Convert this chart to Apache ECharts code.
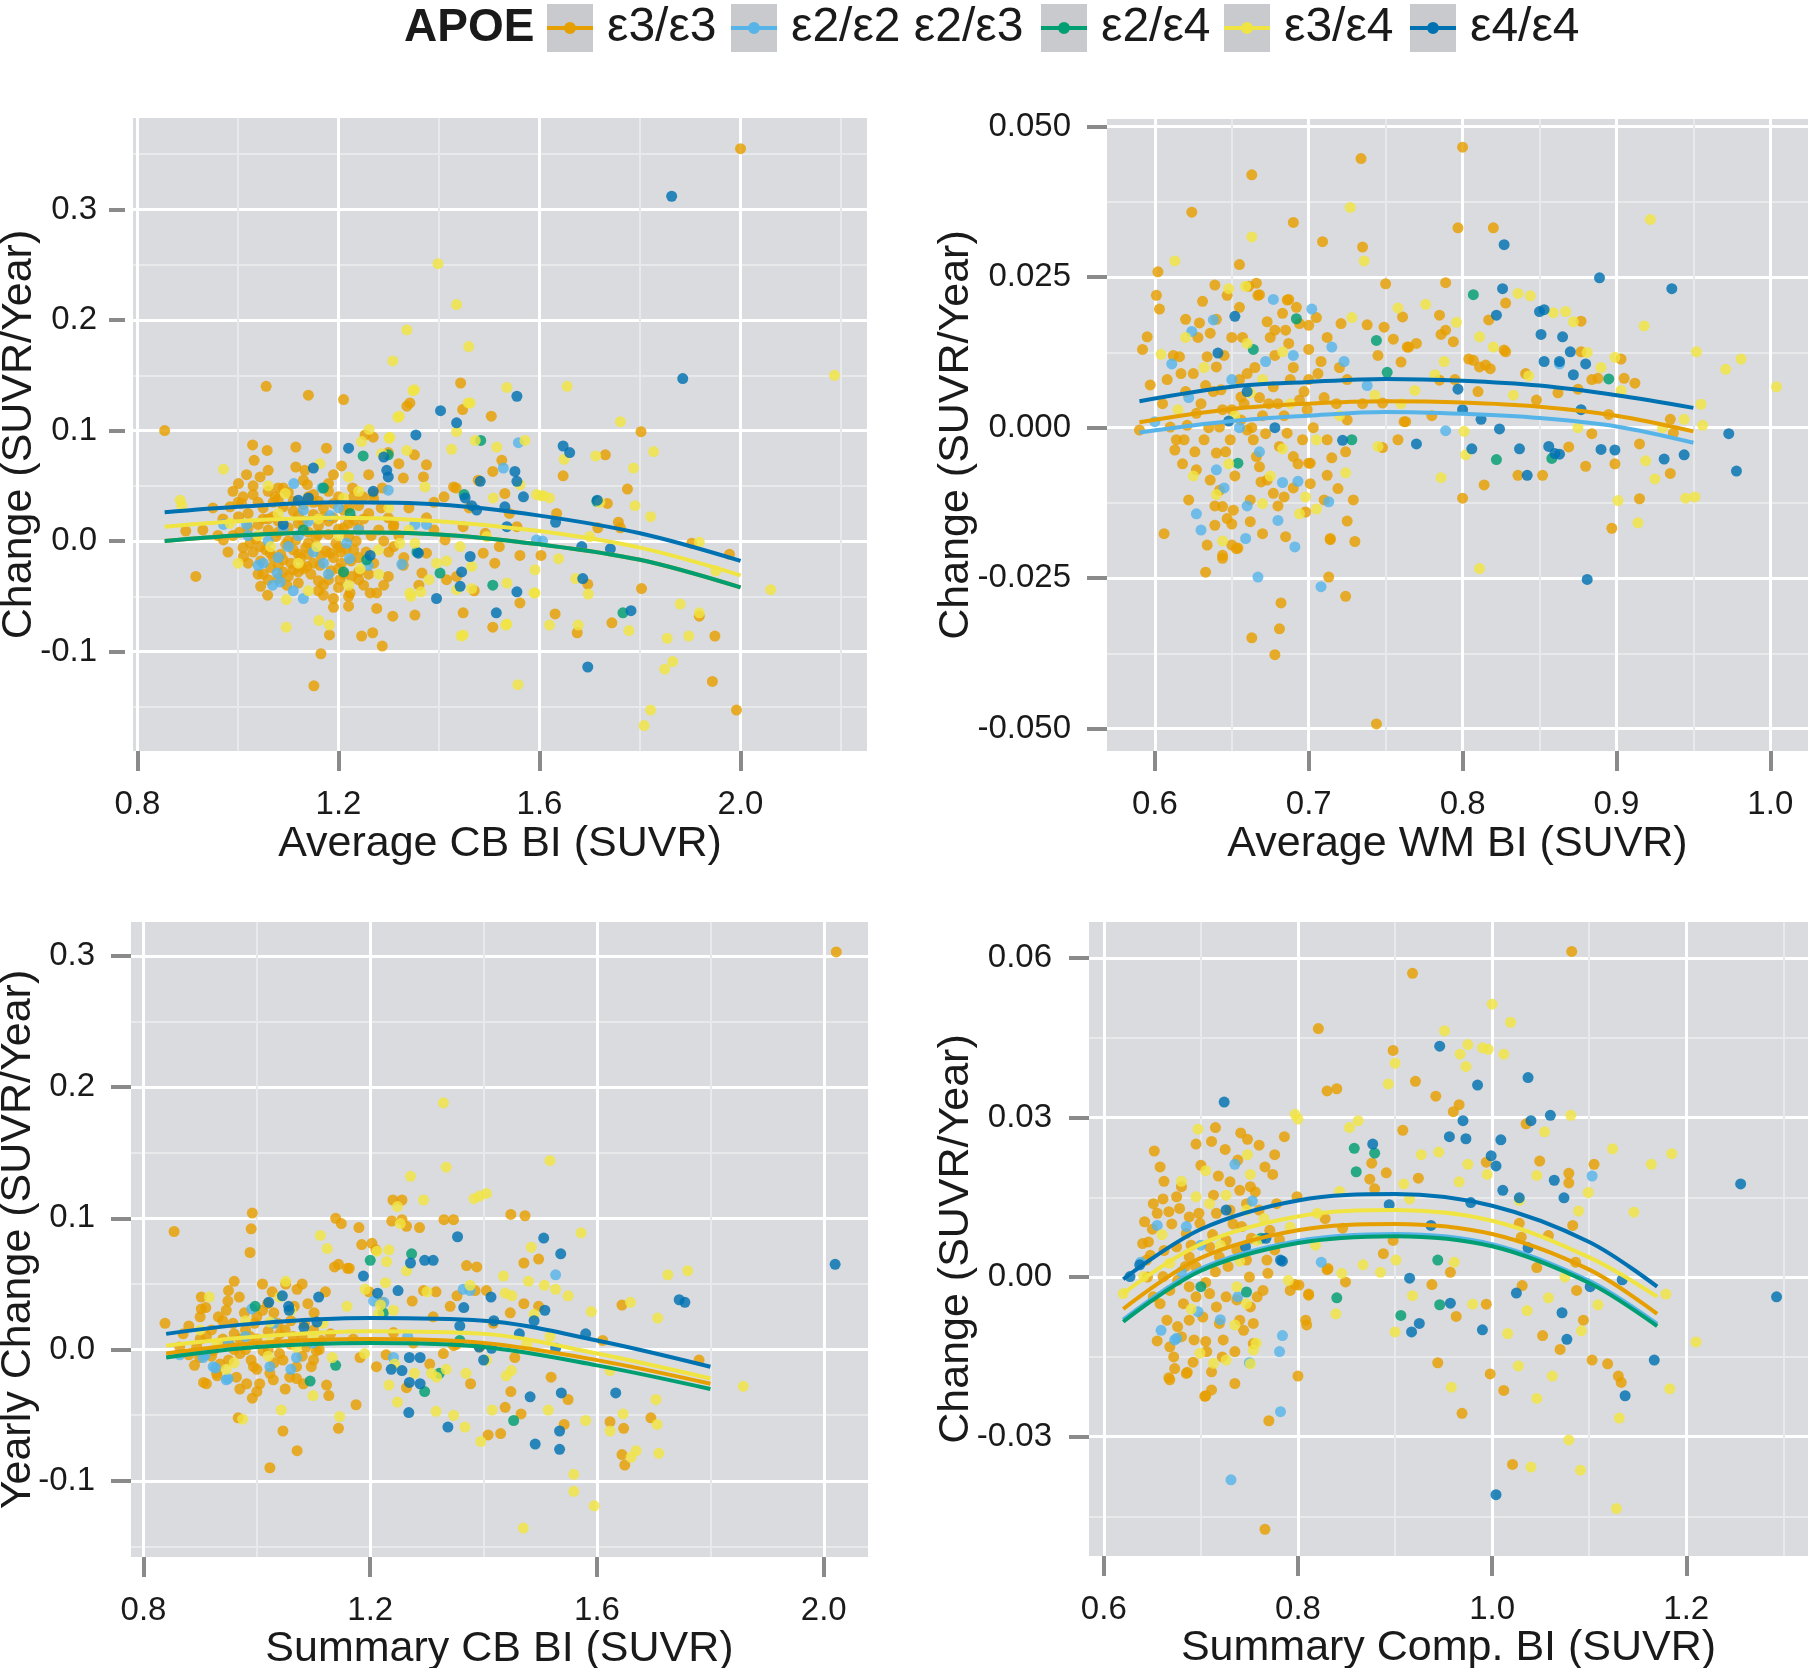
<!DOCTYPE html>
<html>
<head>
<meta charset="utf-8">
<script src="https://cdn.jsdelivr.net/npm/echarts@6/dist/echarts.min.js"></script>
<style>
html,body{margin:0;padding:0;background:#fff}
#main{width:1808px;height:1668px}
</style>
</head>
<body>
<div id="main"></div>
<script>
var groups = ['ε3/ε3', 'ε2/ε2 ε2/ε3', 'ε2/ε4', 'ε3/ε4', 'ε4/ε4'];
var colors = ['#E69F00', '#56B4E9', '#009E73', '#F0E442', '#0072B2'];

// ---------- panel 1 : Average CB BI ----------
var p1_e33 = [[2.000,0.355],[0.854,0.100],[1.056,0.140],[1.140,0.132],[1.210,0.128],[1.443,0.143],[1.342,0.125],[1.336,0.122],[1.447,0.119],[1.504,0.113],[1.269,0.094],[1.253,0.096],[1.029,0.087],[1.058,0.082],[1.115,0.085],[1.176,0.084],[1.299,0.080],[1.351,0.078],[1.032,0.073],[1.017,0.060],[1.044,0.058],[1.060,0.064],[1.001,0.052],[1.115,0.067],[1.133,0.064],[1.190,0.060],[1.206,0.068],[1.228,0.048],[1.249,0.040],[1.269,0.043],[1.287,0.048],[1.329,0.057],[1.369,0.058],[1.375,0.069],[1.525,0.073],[1.507,0.063],[1.531,0.043],[1.434,0.048],[1.478,0.055],[0.984,0.031],[1.007,0.034],[1.030,0.042],[1.074,0.040],[1.138,0.051],[0.896,0.009],[0.971,0.001],[1.003,0.008],[1.001,0.022],[1.024,-0.002],[1.044,-0.005],[1.064,-0.011],[1.090,-0.017],[1.110,-0.026],[1.137,-0.023],[1.163,-0.022],[1.183,-0.011],[1.206,-0.020],[1.203,-0.035],[1.226,-0.032],[1.097,-0.040],[1.045,-0.041],[1.059,-0.049],[1.170,-0.049],[1.190,-0.052],[1.190,-0.060],[1.220,-0.059],[1.223,-0.047],[1.263,-0.047],[1.276,-0.047],[1.276,-0.061],[1.308,-0.068],[1.352,-0.067],[1.246,-0.086],[1.268,-0.083],[1.287,-0.095],[1.182,-0.085],[1.165,-0.102],[1.151,-0.131],[0.916,-0.032],[1.011,-0.014],[1.299,-0.032],[1.329,-0.022],[1.366,-0.029],[1.375,-0.011],[1.375,0.021],[1.309,0.013],[1.299,0.021],[1.412,0.001],[1.415,-0.035],[1.435,-0.032],[1.448,-0.065],[1.507,-0.078],[1.488,-0.011],[1.511,-0.020],[1.561,-0.013],[1.561,-0.056],[1.555,0.013],[1.492,0.007],[1.448,0.013],[1.429,0.049],[1.802,0.099],[1.647,0.059],[1.731,0.078],[1.775,0.047],[1.696,-0.039],[1.757,0.017],[1.903,-0.002],[1.978,-0.012],[1.631,-0.066],[1.675,-0.083],[1.744,-0.074],[1.803,-0.043],[1.918,-0.068],[1.949,-0.086],[1.944,-0.127],[1.992,-0.153],[1.634,0.025],[1.716,0.012],[1.761,0.012],[1.735,0.034],[1.603,-0.013],[1.05,0.030],[1.07,0.022],[1.09,0.031],[1.11,0.027],[1.13,0.033],[1.15,0.024],[1.17,0.030],[1.19,0.021],[1.21,0.028],[1.23,0.019],[1.04,0.015],[1.06,0.010],[1.08,0.018],[1.10,0.012],[1.12,0.016],[1.14,0.008],[1.16,0.014],[1.18,0.006],[1.20,0.011],[1.22,0.004],[1.035,0.002],[1.055,-0.008],[1.075,0.004],[1.095,-0.003],[1.115,0.001],[1.135,-0.006],[1.155,0.003],[1.175,-0.009],[1.195,-0.002],[1.215,-0.007],[1.235,0.000],[1.045,-0.018],[1.065,-0.024],[1.085,-0.012],[1.105,-0.020],[1.125,-0.015],[1.145,-0.030],[1.165,-0.013],[1.185,-0.027],[1.205,-0.010],[1.225,-0.018],[1.080,-0.034],[1.120,-0.038],[1.160,-0.036],[1.200,-0.042],[1.240,-0.028],[1.255,-0.010],[1.265,0.005],[1.250,0.020],[1.020,0.012],[1.010,-0.006],[0.990,0.045],[1.080,0.048],[1.150,0.042],[1.240,0.032],[1.285,0.030],[1.300,-0.010],[1.320,0.005],[1.340,0.030],[1.360,-0.040],[1.390,0.035],[1.410,0.040],[1.460,0.030],[1.470,-0.045],[1.520,-0.005],[1.540,0.025],[1.02,0.025],[1.04,0.035],[1.06,0.045],[1.08,0.038],[1.10,0.044],[1.12,0.023],[1.14,0.040],[1.16,0.036],[1.18,0.045],[1.20,0.040],[1.22,0.030],[1.24,0.012],[1.26,0.025],[1.28,0.010],[1.03,-0.010],[1.05,-0.030],[1.07,-0.015],[1.09,-0.028],[1.11,-0.008],[1.13,-0.025],[1.15,-0.020],[1.17,-0.040],[1.19,-0.015],[1.21,-0.030],[1.23,-0.008],[1.25,-0.040],[1.27,-0.020],[1.29,0.000],[1.31,0.015],[1.33,-0.015],[1.06,0.020],[1.08,0.008],[1.10,0.000],[1.12,-0.012],[1.14,-0.002],[1.16,0.006],[1.18,0.018],[1.20,-0.006],[1.22,0.016],[1.24,-0.015],[0.97,0.020],[0.99,0.005],[1.00,0.035],[0.95,0.030],[0.93,0.010],[1.13,0.055],[1.18,0.052],[1.26,0.060],[1.32,0.070],[1.39,0.010],[1.01,0.040],[1.03,0.050],[1.05,0.020],[1.07,0.035],[1.09,0.048],[1.11,0.036],[1.13,0.018],[1.15,0.035],[1.17,0.022],[1.19,0.034],[1.21,0.012],[1.23,0.040],[1.02,-0.020],[1.04,-0.030],[1.06,-0.035],[1.08,-0.022],[1.10,-0.032],[1.12,-0.028],[1.14,-0.012],[1.16,-0.045],[1.18,-0.035],[1.20,-0.025],[1.22,-0.050],[1.24,-0.035],[1.26,-0.030],[0.98,-0.010],[0.96,0.005],[1.27,0.038],[1.29,-0.040],[1.31,-0.005]];
var p1_e2x = [[1.558,0.089],[1.528,0.066],[1.111,0.052],[1.167,0.048],[1.130,-0.052],[1.078,-0.029],[1.084,-0.037],[1.040,-0.022],[0.971,0.015],[1.326,-0.021],[1.352,0.015],[1.375,0.015],[1.259,-0.022],[1.299,0.046],[1.594,0.001],[1.017,0.015],[1.183,0.023],[1.216,-0.002],[1.069,-0.040],[1.050,-0.020],[1.222,-0.016],[1.606,0.000],[1.12,0.005],[1.09,0.010],[1.15,-0.010],[1.20,0.030],[1.06,0.000],[1.18,-0.030],[1.10,-0.005],[1.14,0.018],[1.02,0.005],[1.08,-0.015],[1.13,0.028],[1.17,-0.020],[1.24,0.010],[1.11,-0.045]];
var p1_e24 = [[1.249,0.077],[1.299,0.078],[1.483,0.091],[1.170,0.048],[1.223,0.025],[1.356,-0.010],[1.402,-0.029],[1.507,-0.040],[1.256,-0.017],[1.210,-0.028],[1.766,-0.065],[1.714,0.036],[1.13,0.010],[1.45,0.042]];
var p1_e34 = [[1.398,0.251],[1.435,0.214],[1.336,0.191],[1.459,0.176],[1.308,0.163],[2.187,0.150],[1.535,0.139],[1.655,0.140],[1.348,0.136],[1.458,0.125],[1.318,0.112],[1.435,0.099],[1.301,0.093],[1.761,0.108],[1.827,0.081],[1.712,0.077],[1.649,0.074],[1.603,0.041],[1.821,0.022],[1.790,0.032],[1.720,0.035],[1.880,-0.057],[1.918,-0.065],[1.854,-0.088],[1.865,-0.109],[1.849,-0.116],[1.821,-0.153],[1.808,-0.167],[1.557,-0.130],[1.620,-0.076],[1.677,-0.076],[1.778,-0.081],[1.897,-0.086],[2.060,-0.044],[1.918,-0.001],[1.444,-0.086],[1.533,-0.076],[1.344,-0.050],[1.182,-0.076],[1.161,-0.072],[1.096,-0.078],[1.096,-0.053],[0.971,0.065],[0.885,0.037],[0.888,0.032],[1.589,-0.047],[1.094,0.043],[1.163,0.070],[1.261,0.101],[1.246,0.090],[1.302,0.094],[1.321,0.113],[1.351,0.137],[1.462,0.125],[1.425,0.083],[1.472,0.091],[1.515,0.085],[1.571,0.091],[1.594,0.042],[1.608,0.041],[1.508,0.039],[1.561,0.051],[1.372,0.049],[1.336,0.082],[1.286,0.079],[1.220,0.058],[1.210,0.039],[1.342,-0.047],[1.364,-0.046],[1.448,-0.085],[1.535,-0.075],[1.591,-0.047],[1.591,-0.026],[1.435,-0.044],[1.465,-0.043],[1.395,-0.020],[1.415,-0.018],[1.442,-0.005],[1.465,-0.023],[1.495,0.004],[1.535,-0.038],[1.352,-0.002],[1.322,-0.002],[1.279,-0.008],[1.243,-0.025],[1.157,-0.005],[1.065,-0.005],[0.984,0.016],[1.787,0.066],[1.700,0.004],[1.697,-0.048],[1.672,-0.034],[1.951,-0.027],[1.638,-0.016],[1.620,0.039],[1.04,0.005],[1.08,0.025],[1.12,-0.020],[1.16,0.020],[1.20,0.005],[1.24,0.045],[1.28,-0.030],[1.30,0.030],[1.00,-0.020],[1.06,0.050],[1.14,-0.045],[1.22,-0.040],[1.34,0.010],[1.38,-0.035]];
var p1_e44 = [[1.863,0.312],[1.885,0.147],[1.555,0.131],[1.403,0.118],[1.435,0.107],[1.354,0.096],[1.220,0.084],[1.296,0.064],[1.299,0.058],[1.551,0.063],[1.555,0.054],[1.568,0.040],[1.482,0.054],[1.452,0.039],[1.465,0.032],[1.475,0.028],[1.531,0.031],[1.535,0.013],[1.150,0.066],[1.140,0.039],[1.269,0.045],[1.359,-0.011],[1.263,-0.013],[1.445,-0.028],[1.395,-0.052],[1.442,-0.041],[1.514,-0.065],[1.555,-0.046],[1.462,-0.014],[1.090,0.015],[1.647,0.086],[1.660,0.080],[1.632,0.017],[1.715,0.037],[1.684,-0.005],[1.741,-0.007],[1.686,-0.034],[1.696,-0.114],[1.782,-0.063],[1.290,0.076],[1.12,0.037]];
var p1_fitX = [0.854, 1.0, 1.2, 1.4, 1.6, 1.8, 2.0];
var p1_fit_e33 = [0.000, 0.005, 0.008, 0.006, -0.003, -0.017, -0.042];
var p1_fit_e24 = [0.000, 0.005, 0.008, 0.006, -0.003, -0.017, -0.042];
var p1_fit_e34 = [0.013, 0.018, 0.021, 0.018, 0.009, -0.006, -0.031];
var p1_fit_e44 = [0.026, 0.031, 0.035, 0.033, 0.023, 0.007, -0.018];

// ---------- panel 2 : Average WM BI ----------
var p2_e33 = [[0.744,-0.0492],[0.800,0.0466],[0.734,0.0447],[0.663,0.0420],[0.624,0.0358],[0.690,0.0341],[0.709,0.0309],[0.735,0.0300],[0.797,0.0332],[0.820,0.0332],[0.828,0.0207],[0.789,0.0241],[0.750,0.0239],[0.602,0.0259],[0.601,0.0220],[0.603,0.0197],[0.592,0.0130],[0.595,0.0151],[0.606,-0.0176],[0.633,-0.0240],[0.644,-0.0212],[0.654,-0.0200],[0.663,-0.0349],[0.678,-0.0377],[0.681,-0.0334],[0.682,-0.0291],[0.713,-0.0248],[0.724,-0.0280],[0.714,-0.0186],[0.730,-0.0189],[0.725,-0.0155],[0.712,-0.0079],[0.700,-0.0059],[0.800,-0.0117],[0.814,-0.0095],[0.897,-0.0167],[0.915,-0.0118],[0.935,-0.0076],[0.899,-0.0060],[0.880,-0.0064],[0.852,-0.0079],[0.836,-0.0079],[0.869,-0.0032],[0.877,0.0177],[0.884,0.0080],[0.912,0.0074],[0.915,-0.0027],[0.937,-0.0009],[0.748,-0.0033],[0.763,0.0010],[0.655,0.0271],[0.661,0.0235],[0.639,0.0237],[0.668,0.0221],[0.687,0.0213],[0.705,0.0183],[0.721,0.0173],[0.738,0.0171],[0.749,0.0167],[0.761,0.0184],[0.755,0.0147],[0.765,0.0134],[0.786,0.0155],[0.794,0.0143],[0.804,0.0114],[0.818,0.0098],[0.841,0.0090],[0.817,0.0179],[0.848,0.0046],[0.862,0.0058],[0.616,0.0118],[0.617,0.0090],[0.629,0.0174],[0.636,0.0157],[0.634,0.0118],[0.640,0.0101],[0.667,0.0220],[0.673,0.0176],[0.678,0.0162],[0.685,0.0162],[0.694,0.0173],[0.686,0.0212],[0.760,0.0109],[0.764,0.0134],[0.785,0.0187],[0.789,0.0162],[0.785,0.0079],[0.811,0.0101],[0.827,0.0129],[0.590,-0.0004],[0.621,0.0004],[0.627,-0.0070],[0.636,-0.0087],[0.640,-0.0042],[0.642,0.0001],[0.649,-0.0020],[0.656,0.0013],[0.660,-0.0004],[0.664,-0.0020],[0.666,-0.0048],[0.668,-0.0065],[0.673,-0.0087],[0.677,-0.0109],[0.681,-0.0031],[0.686,-0.0009],[0.690,-0.0048],[0.696,-0.0020],[0.701,-0.0059],[0.694,0.0046],[0.677,0.0068],[0.656,0.0051],[0.643,0.0063],[0.627,0.0024],[0.619,-0.0020],[0.613,-0.0037],[0.610,0.0001],[0.642,-0.0104],[0.644,-0.0131],[0.647,-0.0151],[0.651,-0.0137],[0.639,-0.0162],[0.650,-0.0195],[0.653,-0.0201],[0.634,-0.0195],[0.644,-0.0217],[0.662,-0.0156],[0.670,-0.0176],[0.685,-0.0181],[0.684,-0.0115],[0.701,-0.0093],[0.719,-0.0101],[0.714,-0.0184],[0.712,-0.0020],[0.725,0.0013],[0.748,0.0041],[0.762,0.0010],[0.729,-0.0120],[0.597,0.0071],[0.620,0.0060],[0.630,0.0040],[0.650,0.0030],[0.660,0.0090],[0.670,0.0020],[0.680,0.0040],[0.700,0.0080],[0.710,0.0050],[0.690,0.0100],[0.650,0.0150],[0.700,0.0130],[0.720,0.0100],[0.807,0.0112],[0.815,0.0104],[0.828,0.0126],[0.903,0.0114],[0.905,0.0082],[0.935,0.0014],[0.888,0.0082],[0.877,0.0126],[0.875,0.0064],[0.895,0.0022],[0.884,-0.0010],[0.605,0.004],[0.612,0.012],[0.618,-0.006],[0.625,0.009],[0.632,-0.002],[0.638,0.006],[0.645,0.012],[0.652,-0.008],[0.658,0.004],[0.665,0.010],[0.672,-0.001],[0.678,0.012],[0.684,0.002],[0.690,-0.010],[0.697,0.006],[0.703,0.000],[0.708,0.011],[0.715,-0.005],[0.628,0.015],[0.646,-0.004],[0.662,-0.012],[0.675,0.015],[0.688,0.008],[0.655,0.008],[0.635,0.000],[0.622,-0.012],[0.668,0.005],[0.698,-0.014],[0.710,-0.012],[0.640,0.018],[0.655,0.020],[0.700,0.017],[0.725,0.008],[0.735,0.004],[0.745,0.012],[0.758,-0.002],[0.770,0.014],[0.780,0.002],[0.795,0.008],[0.810,0.006],[0.608,0.008],[0.614,-0.002],[0.620,0.018],[0.626,-0.004],[0.633,0.007],[0.639,-0.013],[0.644,0.003],[0.650,-0.016],[0.657,0.015],[0.663,0.000],[0.669,-0.009],[0.674,0.004],[0.680,-0.013],[0.687,0.014],[0.693,-0.006],[0.699,0.003],[0.706,0.009],[0.712,0.015],[0.718,0.004],[0.724,-0.004],[0.631,0.021],[0.647,0.022],[0.683,0.019],[0.666,0.024],[0.692,0.020]];
var p2_e2x = [[0.677,0.0213],[0.667,-0.0248],[0.708,-0.0264],[0.627,-0.0143],[0.630,-0.0170],[0.680,-0.0154],[0.691,-0.0198],[0.713,-0.0123],[0.659,-0.0184],[0.683,-0.0091],[0.693,-0.0089],[0.715,0.0134],[0.723,0.0110],[0.702,0.0197],[0.624,0.0160],[0.611,0.0106],[0.672,0.0110],[0.789,-0.0005],[0.738,0.0070],[0.863,0.0106],[0.638,0.0179],[0.640,-0.0070],[0.655,0.0000],[0.600,0.0010],[0.645,-0.0100],[0.660,-0.0130],[0.622,0.005],[0.650,0.008],[0.668,-0.004],[0.690,0.012]];
var p2_e24 = [[0.807,0.0221],[0.744,0.0145],[0.692,0.0181],[0.664,0.0130],[0.751,0.0092],[0.728,-0.0020],[0.654,-0.0059],[0.822,-0.0053],[0.858,-0.0051],[0.895,0.0081]];
var p2_e34 = [[0.727,0.0366],[0.922,0.0346],[0.663,0.0317],[0.613,0.0277],[0.736,0.0277],[0.648,0.0231],[0.659,0.0235],[0.836,0.0223],[0.844,0.0219],[0.859,0.0191],[0.867,0.0193],[0.872,0.0176],[0.758,0.0199],[0.776,0.0205],[0.796,0.0175],[0.918,0.0169],[0.952,0.0126],[0.971,0.0097],[0.981,0.0114],[1.004,0.0068],[0.955,0.0039],[0.956,0.0004],[0.945,-0.0117],[0.951,-0.0115],[0.914,-0.0158],[0.901,-0.0121],[0.925,-0.0085],[0.919,-0.0055],[0.944,0.0014],[0.881,0.0125],[0.899,0.0117],[0.811,-0.0234],[0.786,-0.0083],[0.802,-0.0045],[0.801,-0.0006],[0.745,-0.0031],[0.724,-0.0075],[0.698,-0.0115],[0.705,-0.0135],[0.694,-0.0143],[0.670,-0.0126],[0.640,-0.0111],[0.644,-0.0188],[0.662,0.0058],[0.683,-0.0035],[0.788,0.0110],[0.782,0.0088],[0.811,0.0151],[0.820,0.0134],[0.843,0.0086],[0.833,0.0054],[0.903,0.0062],[0.728,0.0183],[0.769,0.0062],[0.743,0.0054],[0.604,0.0122],[0.683,0.0126],[0.620,0.0150],[0.720,0.0020],[0.760,0.0040],[0.875,0.0000],[0.930,0.0000],[0.890,0.0100],[0.615,0.003],[0.632,0.010],[0.648,-0.006],[0.660,0.014],[0.675,-0.008],[0.688,0.004],[0.705,-0.002],[0.652,0.002],[0.625,-0.008],[0.670,0.008]];
var p2_e44 = [[0.827,0.0304],[0.889,0.0249],[0.936,0.0231],[0.826,0.0231],[0.822,0.0187],[0.652,0.0185],[0.641,0.0124],[0.850,0.0193],[0.853,0.0196],[0.851,0.0155],[0.865,0.0151],[0.853,0.0110],[0.863,0.0110],[0.870,0.0126],[0.872,0.0088],[0.880,0.0106],[0.797,0.0064],[0.800,0.0030],[0.812,0.0014],[0.824,-0.0002],[0.806,-0.0035],[0.770,-0.0027],[0.722,-0.0021],[0.678,0.0000],[0.648,0.0011],[0.837,-0.0035],[0.842,-0.0079],[0.856,-0.0031],[0.860,-0.0043],[0.863,-0.0044],[0.890,-0.0036],[0.899,-0.0037],[0.931,-0.0052],[0.944,-0.0045],[0.973,-0.0010],[0.978,-0.0072],[0.881,-0.0252],[0.877,0.0030],[0.660,0.0060]];
var p2_fitX = [0.59, 0.65, 0.70, 0.75, 0.80, 0.85, 0.90, 0.95];
var p2_fit_e33 = [0.0009, 0.0031, 0.0040, 0.0044, 0.0042, 0.0035, 0.0020, -0.0006];
var p2_fit_e2x = [-0.0008, 0.0011, 0.0020, 0.0026, 0.0023, 0.0016, 0.0002, -0.0025];
var p2_fit_e44 = [0.0044, 0.0068, 0.0076, 0.0081, 0.0078, 0.0070, 0.0054, 0.0033];

// ---------- panel 3 : Summary CB BI ----------
var p3_e33 = [[2.022,0.303],[0.854,0.090],[0.992,0.104],[0.990,0.092],[0.988,0.074],[0.838,0.020],[0.906,-0.025],[0.967,-0.052],[0.992,-0.037],[1.023,-0.090],[1.046,-0.062],[1.071,-0.077],[1.144,-0.060],[1.175,-0.042],[1.127,-0.035],[1.139,0.100],[1.144,0.065],[1.163,0.062],[1.149,0.096],[1.180,0.093],[1.185,0.080],[1.210,0.076],[1.240,0.114],[1.238,0.098],[1.264,0.094],[1.330,0.099],[1.370,0.064],[1.448,0.103],[1.471,0.066],[1.471,0.035],[1.385,0.045],[1.316,0.044],[1.274,0.037],[1.294,0.045],[1.221,0.036],[1.198,0.044],[1.347,0.003],[1.408,-0.065],[1.430,-0.064],[1.438,-0.044],[1.448,-0.032],[1.466,-0.049],[1.519,-0.021],[1.549,-0.038],[1.542,-0.057],[1.623,-0.055],[1.647,-0.060],[1.644,-0.080],[1.649,-0.088],[1.695,-0.052],[1.644,0.034],[1.610,0.007],[1.780,-0.008],[1.377,-0.026],[1.264,-0.029],[1.228,-0.004],[0.902,0.040],[0.902,0.031],[0.949,0.037],[0.969,0.040],[1.027,0.044],[1.051,0.050],[1.080,0.050],[1.071,0.046],[1.121,0.044],[0.932,0.025],[0.946,0.030],[0.958,0.020],[0.978,0.028],[0.996,0.020],[1.019,0.035],[1.037,0.020],[1.066,0.033],[1.084,0.020],[1.101,0.028],[0.911,0.010],[0.923,-0.001],[0.935,-0.011],[0.952,0.004],[0.970,-0.003],[0.988,0.010],[0.994,-0.013],[1.011,-0.001],[1.023,-0.018],[1.035,0.005],[1.046,-0.008],[1.064,0.010],[1.070,-0.013],[1.087,0.002],[1.096,-0.013],[1.105,-0.001],[1.114,0.007],[0.894,0.002],[0.864,0.002],[0.880,-0.004],[0.899,-0.006],[0.911,-0.026],[0.929,-0.018],[0.964,-0.021],[0.982,-0.026],[1.005,-0.026],[1.029,-0.023],[1.058,-0.021],[1.082,-0.026],[1.123,-0.027],[1.137,0.063],[1.160,0.062],[1.170,0.008],[1.182,-0.006],[1.211,-0.013],[1.203,0.081],[1.256,0.114],[1.256,0.099],[1.287,0.093],[1.347,0.099],[1.388,0.063],[1.405,0.045],[1.341,0.033],[1.311,0.025],[1.353,0.041],[1.473,0.102],[1.497,0.069],[1.497,0.033],[1.447,0.028],[1.417,0.020],[1.393,0.002],[1.329,-0.003],[1.276,0.005],[1.241,0.013],[1.305,-0.011],[1.352,0.004],[1.455,-0.006],[0.92,0.015],[0.94,0.008],[0.96,0.012],[0.98,0.000],[1.00,0.008],[1.02,0.014],[1.04,-0.003],[1.06,0.004],[1.08,-0.005],[0.95,-0.008],[1.00,-0.015],[1.05,-0.030],[1.10,0.015],[0.87,0.012],[0.90,0.025],[0.88,0.018],[0.90,0.008],[0.92,-0.005],[0.94,0.022],[0.96,0.000],[0.98,0.015],[1.00,0.025],[1.02,0.000],[1.04,0.012],[1.06,0.022],[1.08,0.010],[1.10,-0.008],[0.91,0.032],[0.93,-0.020],[0.95,0.045],[0.97,0.008],[0.99,-0.008],[1.01,0.030],[1.03,-0.010],[1.05,0.015],[1.07,-0.022],[1.09,0.035],[1.11,0.000],[0.89,-0.012],[0.97,-0.030],[1.01,0.050],[1.03,0.028],[0.96,0.052],[1.00,-0.032],[1.13,0.012]];
var p3_e2x = [[1.527,0.057],[1.364,0.046],[0.949,-0.022],[0.927,-0.014],[0.909,-0.004],[1.206,0.037],[1.266,0.010],[1.224,0.036],[1.241,-0.006],[0.864,-0.004],[0.905,-0.006],[0.923,-0.013],[0.946,-0.023],[0.991,0.031],[1.023,-0.013],[1.070,-0.006],[1.099,0.005],[1.376,0.045],[0.98,0.010],[1.03,0.020],[1.06,-0.015],[0.95,0.005]];
var p3_e24 = [[1.200,0.068],[1.273,0.073],[1.139,-0.012],[1.094,-0.024],[1.296,-0.032],[1.322,-0.018],[1.453,-0.054],[0.997,0.033],[1.223,0.028],[1.358,0.007]];
var p3_e34 = [[1.329,0.188],[1.334,0.139],[1.517,0.144],[1.271,0.132],[1.294,0.114],[1.383,0.115],[1.393,0.117],[1.405,0.119],[1.248,0.109],[1.253,0.096],[1.112,0.087],[1.124,0.077],[1.212,0.075],[1.572,0.089],[1.484,0.078],[1.479,0.052],[1.507,0.049],[1.527,0.046],[1.549,0.041],[1.438,0.043],[1.590,0.029],[1.725,0.057],[1.760,0.060],[1.707,0.024],[1.659,0.036],[1.858,-0.028],[1.704,-0.038],[1.706,-0.057],[1.709,-0.079],[1.669,-0.077],[1.660,-0.082],[1.646,-0.049],[1.623,-0.062],[1.580,-0.054],[1.595,-0.119],[1.559,-0.108],[1.559,-0.095],[1.470,-0.136],[1.395,-0.070],[1.415,-0.046],[1.367,-0.059],[1.347,-0.050],[1.316,-0.047],[1.248,-0.040],[1.233,-0.027],[1.308,-0.018],[1.146,-0.051],[1.099,-0.035],[1.043,-0.046],[0.975,-0.053],[1.023,0.021],[0.916,0.040],[1.489,0.027],[1.514,-0.046],[1.440,-0.020],[1.623,-0.016],[1.233,0.076],[1.229,0.067],[1.191,0.046],[1.227,0.051],[1.264,0.060],[1.300,0.044],[1.435,0.056],[1.450,0.041],[1.376,0.049],[1.241,0.030],[1.215,0.027],[1.159,0.033],[1.051,0.052],[0.946,-0.015],[1.133,-0.006],[1.190,-0.003],[1.243,-0.011],[1.278,-0.018],[1.317,-0.021],[1.334,-0.015],[1.369,-0.018],[1.405,-0.008],[1.449,-0.016],[1.476,0.004],[1.517,0.010],[1.218,0.034],[1.117,0.020],[1.070,0.002],[1.023,0.005],[0.93,0.005],[0.98,0.022],[1.02,-0.005],[1.06,0.030],[1.10,0.010],[0.96,-0.010],[1.04,0.040],[0.90,0.015]];
var p3_e44 = [[2.020,0.065],[1.354,0.086],[1.506,0.085],[1.536,0.073],[1.296,0.068],[1.311,0.068],[1.271,0.066],[1.188,0.056],[1.249,0.045],[1.213,0.043],[1.365,0.032],[1.413,0.040],[1.418,0.022],[1.508,0.030],[1.745,0.038],[1.755,0.036],[1.580,0.012],[1.463,0.012],[1.489,0.022],[1.633,-0.033],[1.537,-0.033],[1.534,-0.062],[1.534,-0.076],[1.491,-0.072],[1.482,-0.036],[1.337,-0.059],[1.268,-0.048],[1.269,-0.025],[1.269,-0.006],[1.237,-0.015],[1.400,-0.008],[1.392,0.002],[1.527,0.001],[1.106,0.021],[1.056,0.033],[1.021,0.036],[1.045,0.041],[1.109,0.040],[1.057,0.030],[1.083,0.017],[1.358,0.018],[1.414,0.001],[1.288,-0.006],[1.256,-0.016],[1.288,-0.026]];
var p3_fitX = [0.84, 1.0, 1.2, 1.4, 1.6, 1.8];
var p3_fit_e33 = [-0.003, 0.005, 0.008, 0.005, -0.008, -0.026];
var p3_fit_e24 = [-0.006, 0.002, 0.005, 0.002, -0.012, -0.030];
var p3_fit_e34 = [0.003, 0.010, 0.014, 0.012, -0.003, -0.022];
var p3_fit_e44 = [0.012, 0.020, 0.024, 0.022, 0.007, -0.013];

// ---------- panel 4 : Summary Comp. BI ----------
var p4_e33 = [[1.082,0.0612],[0.918,0.0571],[0.821,0.0467],[0.898,0.0426],[0.921,0.0368],[0.830,0.0350],[0.840,0.0354],[0.942,0.0340],[0.966,0.0324],[0.960,0.0311],[1.035,0.0288],[1.049,0.0218],[0.994,0.0216],[1.105,0.0212],[1.079,0.0195],[1.079,0.0177],[1.083,0.0097],[1.058,0.0078],[1.028,0.0101],[1.030,0.0075],[0.924,0.0186],[0.908,0.0276],[0.876,0.0214],[0.891,0.0196],[0.811,-0.0032],[0.797,-0.0014],[0.808,-0.0081],[0.800,-0.0186],[0.770,-0.0270],[0.766,-0.0474],[0.944,-0.0161],[0.963,-0.0074],[0.969,-0.0256],[0.998,-0.0182],[1.012,-0.0213],[1.021,-0.0352],[0.994,-0.0051],[1.031,-0.0016],[1.052,-0.0110],[1.070,-0.0136],[1.087,-0.0025],[1.094,-0.0081],[1.103,-0.0156],[1.119,-0.0163],[1.130,-0.0186],[1.133,-0.0198],[0.652,0.0237],[0.658,0.0207],[0.715,0.0281],[0.711,0.0255],[0.741,0.0271],[0.667,-0.0189],[0.686,-0.0179],[0.705,-0.0223],[0.786,0.0264],[0.651,0.0138],[0.661,0.0147],[0.675,0.0151],[0.642,0.0104],[0.646,0.0066],[0.648,0.0041],[0.655,0.0120],[0.667,0.0123],[0.678,0.0129],[0.688,0.0113],[0.685,0.0082],[0.699,0.0101],[0.713,0.0154],[0.716,0.0120],[0.730,0.0126],[0.740,0.0163],[0.747,0.0138],[0.742,0.0095],[0.675,0.0057],[0.688,0.0038],[0.695,0.0019],[0.709,0.0057],[0.719,0.0038],[0.726,0.0069],[0.737,0.0051],[0.747,0.0032],[0.752,0.0073],[0.661,0.0001],[0.668,-0.0025],[0.676,-0.0006],[0.688,-0.0018],[0.695,-0.0037],[0.709,-0.0031],[0.716,-0.0056],[0.726,-0.0037],[0.737,-0.0043],[0.751,-0.0056],[0.758,-0.0037],[0.764,-0.0025],[0.665,-0.0081],[0.676,-0.0093],[0.688,-0.0081],[0.702,-0.0075],[0.719,-0.0087],[0.740,-0.0081],[0.754,-0.0087],[0.668,-0.0131],[0.680,-0.0112],[0.693,-0.0118],[0.705,-0.0121],[0.723,-0.0118],[0.735,-0.0140],[0.754,-0.0125],[0.673,-0.0172],[0.668,-0.0193],[0.685,-0.0181],[0.711,-0.0178],[0.704,-0.0224],[0.809,-0.0090],[0.801,-0.0015],[0.811,-0.0034],[0.792,-0.0025],[0.769,0.0007],[0.768,0.0032],[0.776,0.0051],[0.781,0.0070],[0.771,0.0088],[0.760,0.0126],[0.640,0.0063],[0.644,0.0032],[0.651,-0.0037],[0.730,0.0179],[0.751,0.0170],[0.778,0.0138],[0.799,0.0151],[0.831,0.0016],[0.888,0.0044],[0.898,0.0069],[0.828,0.0110],[0.846,0.0092],[0.849,-0.0009],[0.830,0.0014],[0.957,0.0009],[0.938,-0.0014],[1.046,0.0018],[1.086,0.0028],[0.766,0.0207],[0.774,0.0193],[0.776,0.0230],[0.748,0.0259],[0.760,0.0248],[0.711,-0.0212],[0.874,0.0184],[0.879,0.0166],[0.645,0.0000],[0.650,0.0090],[0.658,-0.0050],[0.662,0.0180],[0.670,0.0100],[0.672,-0.0150],[0.680,0.0170],[0.682,-0.0050],[0.690,0.0060],[0.692,-0.0160],[0.698,0.0120],[0.700,0.0210],[0.705,-0.0010],[0.712,0.0080],[0.718,0.0190],[0.722,-0.0150],[0.728,0.0020],[0.733,0.0100],[0.738,0.0220],[0.744,-0.0100],[0.750,0.0000],[0.756,0.0160],[0.662,0.0050],[0.684,0.0020],[0.706,-0.0140],[0.725,0.0240],[0.735,-0.0200],[0.655,-0.0120],[0.695,0.0250],[0.715,0.0010]];
var p4_e2x = [[0.731,-0.0381],[0.782,-0.0253],[0.781,-0.0140],[0.784,-0.0110],[0.750,-0.0161],[0.675,-0.0115],[0.735,0.0212],[0.753,0.0143],[0.655,0.0097],[0.638,0.0028],[1.103,0.0190],[0.824,0.0028],[0.685,0.0095],[0.659,-0.0100],[0.673,-0.0118],[0.697,-0.0065],[0.738,-0.0037],[0.700,0.0060],[0.720,-0.0080],[0.680,0.0010]];
var p4_e24 = [[0.858,0.0242],[0.879,0.0233],[0.860,0.0198],[0.840,-0.0039],[0.906,-0.0072],[0.944,0.0032],[0.946,-0.0052],[0.747,-0.0028],[0.762,0.0073],[0.700,-0.0018]];
var p4_e34 = [[1.000,0.0513],[1.019,0.0479],[0.951,0.0463],[0.975,0.0437],[0.990,0.0431],[0.996,0.0428],[1.012,0.0419],[0.967,0.0419],[0.973,0.0396],[0.900,0.0402],[0.893,0.0363],[0.797,0.0306],[0.800,0.0297],[0.862,0.0294],[0.853,0.0281],[1.081,0.0304],[1.054,0.0273],[1.124,0.0241],[1.185,0.0232],[1.164,0.0212],[1.099,0.0159],[1.146,0.0122],[1.089,0.0124],[1.179,-0.0032],[1.210,-0.0122],[1.183,-0.0210],[1.131,-0.0265],[1.128,-0.0435],[1.091,-0.0363],[1.079,-0.0306],[1.040,-0.0357],[1.046,-0.0228],[1.062,-0.0186],[1.027,-0.0167],[1.016,-0.0106],[1.036,-0.0063],[1.058,-0.0039],[1.109,-0.0052],[1.092,-0.0101],[0.980,-0.0051],[0.958,-0.0207],[0.900,-0.0103],[0.918,-0.0035],[0.867,0.0023],[0.845,0.0007],[0.927,0.0230],[0.966,0.0179],[0.995,0.0193],[0.748,0.0230],[0.697,0.0278],[0.757,-0.0124],[0.751,-0.0163],[0.699,-0.0143],[0.620,-0.0031],[0.641,0.0001],[0.668,0.0026],[0.695,0.0151],[0.709,0.0138],[0.726,0.0154],[0.747,0.0126],[0.758,0.0069],[0.737,-0.0018],[0.747,-0.0050],[0.754,-0.0137],[0.713,-0.0162],[0.726,-0.0156],[0.792,0.0094],[0.818,0.0060],[0.790,-0.0006],[0.901,0.0032],[0.843,0.0161],[0.909,0.0175],[0.945,0.0235],[0.975,0.0212],[1.046,0.0191],[1.028,0.0144],[0.915,0.0147],[0.820,0.0120],[0.751,0.0193],[0.885,0.0009],[0.839,-0.0069],[1.075,0.0000],[0.961,0.0028],[0.660,0.0080],[0.690,-0.0060],[0.720,0.0060],[0.705,0.0200],[0.740,0.0030],[0.680,0.0180],[0.735,-0.0090],[0.765,0.0110]];
var p4_e44 = [[1.256,0.0175],[1.293,-0.0037],[0.946,0.0434],[1.037,0.0375],[0.985,0.0361],[0.724,0.0329],[0.970,0.0294],[0.956,0.0264],[0.973,0.0260],[1.009,0.0258],[1.040,0.0294],[1.060,0.0304],[0.999,0.0228],[1.004,0.0209],[1.011,0.0163],[1.028,0.0149],[1.064,0.0182],[1.074,0.0149],[0.978,0.0140],[0.937,0.0097],[0.894,0.0136],[0.877,0.0250],[1.037,0.0055],[0.915,-0.0002],[0.917,-0.0103],[0.925,-0.0087],[0.957,-0.0049],[0.990,-0.0099],[1.025,-0.0030],[1.072,-0.0067],[1.077,-0.0117],[1.101,-0.0018],[1.134,-0.0005],[1.137,-0.0223],[1.167,-0.0156],[1.004,-0.0409],[0.784,0.0030],[0.627,0.0001],[0.637,0.0023],[0.726,0.0126],[0.767,0.0073],[0.782,0.0032],[0.746,0.0057]];
var p4_fitX = [0.62, 0.70, 0.80, 0.90, 1.00, 1.10, 1.17];
var p4_fit_e33 = [-0.0060, 0.0036, 0.0088, 0.0100, 0.0081, 0.0014, -0.0069];
var p4_fit_e2x = [-0.0080, 0.0016, 0.0068, 0.0081, 0.0062, -0.0007, -0.0088];
var p4_fit_e24 = [-0.0084, 0.0012, 0.0064, 0.0077, 0.0058, -0.0011, -0.0092];
var p4_fit_e34 = [-0.0031, 0.0062, 0.0114, 0.0126, 0.0106, 0.0037, -0.0037];
var p4_fit_e44 = [-0.0004, 0.0090, 0.0144, 0.0156, 0.0134, 0.0066, -0.0018];

// tick values
var p1_xMajor = [0.8, 1.2, 1.6, 2.0], p1_xMinor = [1.0, 1.4, 1.8, 2.2];
var p1_yMajor = [-0.1, 0, 0.1, 0.2, 0.3], p1_yMinor = [-0.15, -0.05, 0.05, 0.15, 0.25, 0.35];
var p2_xMajor = [0.6, 0.7, 0.8, 0.9, 1.0], p2_xMinor = [0.65, 0.75, 0.85, 0.95];
var p2_yMajor = [-0.05, -0.025, 0, 0.025, 0.05], p2_yMinor = [-0.0375, -0.0125, 0.0125, 0.0375];
var p3_xMajor = [0.8, 1.2, 1.6, 2.0], p3_xMinor = [1.0, 1.4, 1.8];
var p3_yMajor = [-0.1, 0, 0.1, 0.2, 0.3], p3_yMinor = [-0.15, -0.05, 0.05, 0.15, 0.25];
var p4_xMajor = [0.6, 0.8, 1.0, 1.2], p4_xMinor = [0.7, 0.9, 1.1, 1.3];
var p4_yMajor = [-0.03, 0, 0.03, 0.06], p4_yMinor = [-0.045, -0.015, 0.015, 0.045];

var FONT = 'Liberation Sans, Arial, sans-serif';
var TXT = '#1a1a1a';

var panels = [
  { grid: {left: 133, top: 118, width: 734, height: 633},
    x: {min: 0.791, max: 2.2517, major: p1_xMajor, minor: p1_xMinor, dec: 1, name: 'Average CB BI (SUVR)', gap: 72},
    y: {min: -0.190, max: 0.3828, major: p1_yMajor, minor: p1_yMinor, dec: 1, name: 'Change (SUVR/Year)', nameX: 19, offset: 8, tick: 16, margin: 28},
    pts: [p1_e33, p1_e2x, p1_e24, p1_e34, p1_e44],
    fitX: p1_fitX, fits: [p1_fit_e33, null, p1_fit_e24, p1_fit_e34, p1_fit_e44] },
  { grid: {left: 1107, top: 119, width: 701, height: 632},
    x: {min: 0.5689, max: 1.0245, major: p2_xMajor, minor: p2_xMinor, dec: 1, name: 'Average WM BI (SUVR)', gap: 72},
    y: {min: -0.0537, max: 0.05128, major: p2_yMajor, minor: p2_yMinor, dec: 3, name: 'Change (SUVR/Year)', nameX: 956, offset: 0, tick: 20, margin: 36},
    pts: [p2_e33, p2_e2x, p2_e24, p2_e34, p2_e44],
    fitX: p2_fitX, fits: [p2_fit_e33, p2_fit_e2x, null, null, p2_fit_e44] },
  { grid: {left: 131, top: 922, width: 737, height: 635},
    x: {min: 0.778, max: 2.078, major: p3_xMajor, minor: p3_xMinor, dec: 1, name: 'Summary CB BI (SUVR)', gap: 65},
    y: {min: -0.158, max: 0.3258, major: p3_yMajor, minor: p3_yMinor, dec: 1, name: 'Yearly Change (SUVR/Year)', nameX: 18, offset: 0, tick: 20, margin: 36},
    pts: [p3_e33, p3_e2x, p3_e24, p3_e34, p3_e44],
    fitX: p3_fitX, fits: [p3_fit_e33, null, p3_fit_e24, p3_fit_e34, p3_fit_e44] },
  { grid: {left: 1089, top: 922, width: 719, height: 634},
    x: {min: 0.58475, max: 1.32538, major: p4_xMajor, minor: p4_xMinor, dec: 1, name: 'Summary Comp. BI (SUVR)', gap: 66},
    y: {min: -0.05242, max: 0.06674, major: p4_yMajor, minor: p4_yMinor, dec: 2, name: 'Change (SUVR/Year)', nameX: 956, offset: 0, tick: 20, margin: 37},
    pts: [p4_e33, p4_e2x, p4_e24, p4_e34, p4_e44],
    fitX: p4_fitX, fits: [p4_fit_e33, p4_fit_e2x, p4_fit_e24, p4_fit_e34, p4_fit_e44] }
];

var grids = [], xAxes = [], yAxes = [], series = [], yTitles = [];

function fmt(d) { return function (v) { return v.toFixed(d); }; }

panels.forEach(function (p, i) {
  grids.push({left: p.grid.left, top: p.grid.top, width: p.grid.width, height: p.grid.height,
    containLabel: false, outerBoundsMode: 'none',
    show: true, backgroundColor: '#dadbde', borderWidth: 0});

  // major axis: ticks, labels, white grid lines
  xAxes.push({
    gridIndex: i, type: 'value', min: p.x.min, max: p.x.max, position: 'bottom',
    axisLine: {show: false, onZero: false},
    axisTick: {show: true, length: 20, customValues: p.x.major, lineStyle: {color: '#8a8a8a', width: 4}},
    axisLabel: {customValues: p.x.major, margin: 37, fontSize: 33, color: TXT, fontFamily: FONT, formatter: fmt(p.x.dec)},
    splitLine: {show: true, lineStyle: {color: '#ffffff', width: 3}},
    name: p.x.name, nameLocation: 'middle', nameGap: p.x.gap,
    nameTextStyle: {fontSize: 43, color: TXT, fontFamily: FONT}
  });
  // minor grid lines
  xAxes.push({
    gridIndex: i, type: 'value', min: p.x.min, max: p.x.max,
    axisLine: {show: false, onZero: false}, axisLabel: {show: false},
    axisTick: {show: false, customValues: p.x.minor},
    splitLine: {show: true, lineStyle: {color: '#e8e9eb', width: 2}}
  });

  yAxes.push({
    gridIndex: i, type: 'value', min: p.y.min, max: p.y.max, position: 'left', offset: p.y.offset,
    axisLine: {show: false, onZero: false},
    axisTick: {show: true, length: p.y.tick, customValues: p.y.major, lineStyle: {color: '#8a8a8a', width: 4}},
    axisLabel: {customValues: p.y.major, margin: p.y.margin, fontSize: 33, color: TXT, fontFamily: FONT, formatter: fmt(p.y.dec)},
    splitLine: {show: true, lineStyle: {color: '#ffffff', width: 3}}
  });
  yAxes.push({
    gridIndex: i, type: 'value', min: p.y.min, max: p.y.max,
    axisLine: {show: false, onZero: false}, axisLabel: {show: false},
    axisTick: {show: false, customValues: p.y.minor},
    splitLine: {show: true, lineStyle: {color: '#e8e9eb', width: 2}}
  });

  // rotated y title, centred on the panel
  yTitles.push({
    type: 'text', x: p.y.nameX, y: p.grid.top + p.grid.height / 2, rotation: Math.PI / 2, z: 5,
    style: {text: p.y.name, fontSize: 43, fontFamily: FONT, fill: TXT, align: 'center', verticalAlign: 'middle'}
  });

  // points
  p.pts.forEach(function (arr, g) {
    series.push({
      type: 'scatter', name: groups[g], xAxisIndex: 2 * i, yAxisIndex: 2 * i,
      data: arr, symbolSize: 11, z: 2,
      itemStyle: {color: colors[g], opacity: 0.82}
    });
  });
  // fitted curves
  p.fits.forEach(function (f, g) {
    if (!f) return;
    series.push({
      type: 'line', name: groups[g], xAxisIndex: 2 * i, yAxisIndex: 2 * i,
      data: p.fitX.map(function (x, k) { return [x, f[k]]; }),
      smooth: 0.35, showSymbol: false, symbol: 'none', silent: true, z: 3,
      lineStyle: {color: colors[g], width: 4}
    });
  });
});

// legend: one legend per key so each sits on its grey box
var keyLeft = [547, 731, 1041, 1224, 1410];
var keyPath = 'path://M0,5 L46,5 L46,9 L0,9 Z M17,7 A6,6 0 1,1 29,7 A6,6 0 1,1 17,7 Z';
var legends = groups.map(function (name, g) {
  return {
    left: keyLeft[g], top: 2, padding: 0, itemWidth: 46, itemHeight: 12, selectedMode: false, z: 5,
    data: [{name: name, icon: keyPath, itemStyle: {color: colors[g], opacity: 1}}],
    textStyle: {fontSize: 48, color: TXT, fontFamily: FONT, lineHeight: 52, padding: [0, 0, 0, 9]}
  };
});
var keyBoxes = keyLeft.map(function (x) {
  return {type: 'rect', left: x, top: 4, z: 1, shape: {width: 46, height: 48}, style: {fill: '#c9cacd'}};
});

var chart = echarts.init(document.getElementById('main'), null, {renderer: 'canvas'});
chart.setOption({
  animation: false,
  backgroundColor: '#ffffff',
  textStyle: {fontFamily: FONT},
  title: {text: 'APOE', left: 404, top: 2, padding: 0,
    textStyle: {fontSize: 46, fontWeight: 'bold', color: TXT, fontFamily: FONT, lineHeight: 52}},
  legend: legends,
  graphic: keyBoxes.concat(yTitles),
  grid: grids,
  xAxis: xAxes,
  yAxis: yAxes,
  series: series
});
</script>
</body>
</html>
